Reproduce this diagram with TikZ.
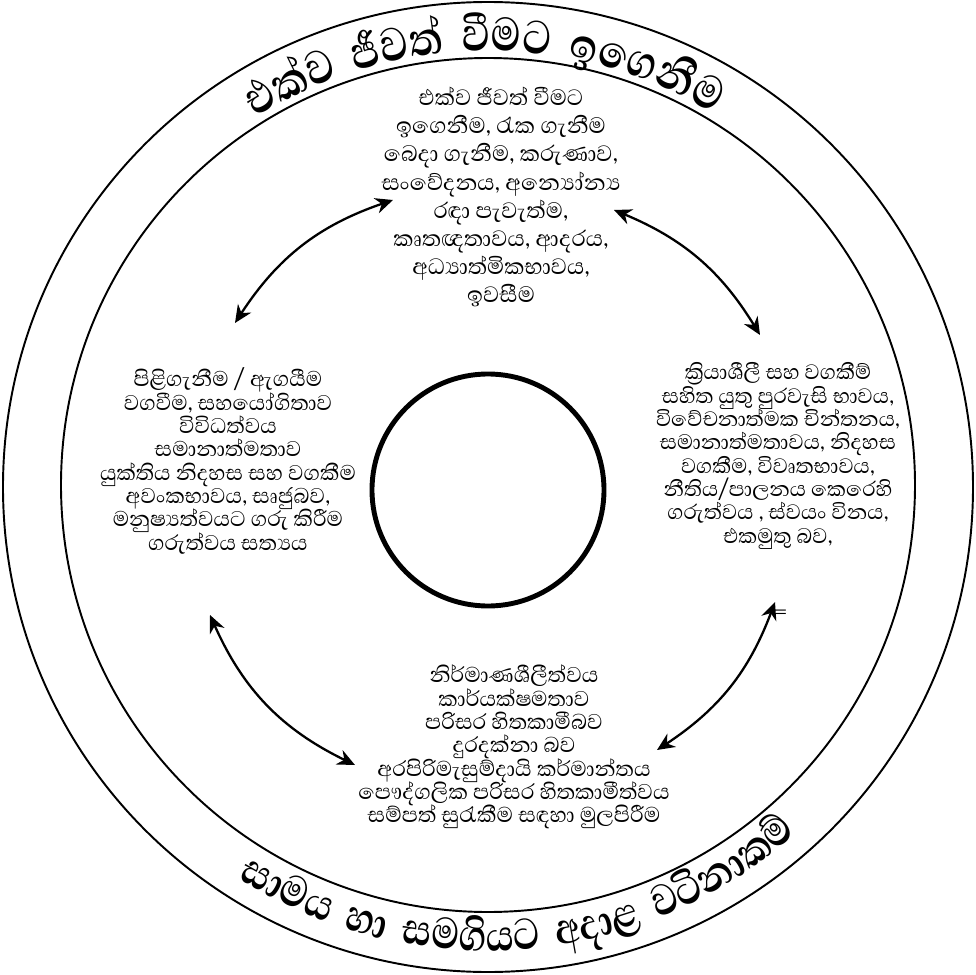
\documentclass[tikz,border=0pt]{standalone}
\usepackage{fontspec}
\usetikzlibrary{arrows.meta}
\setmainfont[Script=Sinhala]{Abhaya Libre}
\newfontfamily\bannerfont[Script=Sinhala]{Abhaya Libre}

\newdimen\arcw
\newdimen\arcpos
\newdimen\glw
\newsavebox\glbox
\def\bannersize{28}
\newcommand\bannerstyle{\bannerfont\bfseries\fontsize{\bannersize}{30}\selectfont}
\newcommand\gap{\hspace*{0.35em}}
\newcommand\tightlines{\lineskiplimit=-50pt\relax}
% width of one cluster, fonts work again outside the picture
\newcommand\measure[1]{%
  \pgfinterruptpicture\global\setbox\glbox=\hbox{\bannerstyle#1}\endpgfinterruptpicture
  \global\glw=\wd\glbox}

% one cluster after another along an arc
% #1 radius, #2 middle angle, #3 1 = top / -1 = bottom, #4 clusters
\newcommand\arctext[4]{%
  \global\arcw=0pt
  \foreach \cl in {#4} {\measure{\cl}\global\advance\arcw by \glw}
  \global\arcpos=0pt
  \foreach \cl in {#4} {
    \measure{\cl}
    \pgfmathsetmacro\glang{#2 + #3*(0.5*\the\arcw - \the\arcpos - 0.5*\the\glw)/(#1*0.5669)*180/pi}
    \pgfmathsetmacro\glrot{\glang - #3*90}
    \node[anchor=base, inner sep=0pt, rotate=\glrot, yscale=1.2] at (\glang:#1) {\bannerstyle\cl};
    \global\advance\arcpos by \glw
  }
}

\begin{document}
\begin{tikzpicture}[x=0.02cm, y=0.02cm,
  ring/.style={line width=1.1pt},
  block/.style={align=center, inner sep=0pt, font=\fontsize{15.6}{13.3}\selectfont\tightlines},
  link/.style={{Stealth[length=10pt,width=9pt]}-{Stealth[length=10pt,width=9pt]}, line width=1.3pt}]
  \useasboundingbox (-488,-487) rectangle (488,487);
  % Rings
  \draw[ring] (0,0) circle (485);
  \draw[ring] (0,2) circle (427);
  \draw[line width=2.8pt] (0,-3) circle (116);
  % Banners
  \def\bannersize{28.5}
  \arctext{436}{90.5}{1}{එ,ක්,ව,\gap,ජී,ව,ත්,\gap,වී,ම,ට,\gap,ඉ,ගෙ,නී,ම}
  \def\bannersize{26.5}
  \arctext{464}{274.6}{-1}{සා,ම,ය,\gap,හා,\gap,ස,ම,ගි,ය,ට,\gap,අ,දා,ළ,\gap,ව,ටි,නා,ක,ම්}
  % Value groups
  \node[block, font=\fontsize{16.2}{16}\selectfont\tightlines] (together) at (13,290) {එක්ව ජීවත් වීමට\\
    ඉගෙනීම, රැක ගැනීම\\ බෙදා ගැනීම, කරුණාව,\\ සංවේදනය, අන්‍යෝන්‍ය\\ රඳා පැවැත්ම,\\
    කෘතඥතාවය, ආදරය,\\ අධ්‍යාත්මිකභාවය,\\ ඉවසීම};
  \node[block, font=\fontsize{15.5}{13.3}\selectfont\tightlines] (respect) at (-260,26) {පිළිගැනීම / ඇගයීම\\ වගවීම, සහයෝගිතාව\\
    විවිධත්වය\\ සමානාත්මතාව\\ යුක්තිය නිදහස සහ වගකීම\\ අවංකභාවය, සෘජුබව,\\
    මනුෂ්‍යත්වයට ගරු කිරීම\\ ගරුත්වය සත්‍යය};
  \node[block, font=\fontsize{15.2}{13.3}\selectfont\tightlines] (citizen) at (290,31) {ක්‍රියාශීලී සහ වගකීම්\\ සහිත යුතු පුරවැසි භාවය,\\
    විවේචනාත්මක චින්තනය,\\ සමානාත්මතාවය, නිදහස\\ වගකීම, විවෘතභාවය,\\
    නීතිය/පාලනය කෙරෙහි\\ ගරුත්වය , ස්වයං විනය,\\ එකමුතු බව,};
  \node[block] (nature) at (26,-260) {නිර්මාණශීලීත්වය\\ කාර්යක්ෂමතාව\\ පරිසර හිතකාමීබව\\
    දුරදක්නා බව\\ අරපිරිමැසුම්දායි කර්මාන්තය\\ පෞද්ගලික පරිසර හිතකාමීත්වය\\
    සම්පත් සුරැකීම සඳහා මුලපිරීම};
  \node[font=\fontsize{18}{18}\selectfont] (mark) at (292,-128) {=};
  % Arrows between the groups
  \coordinate (tl1) at (-253,164);
  \coordinate (tl2) at (-95,287);
  \coordinate (tr1) at (126,277);
  \coordinate (tr2) at (272,152);
  \coordinate (bl1) at (-278,-128);
  \coordinate (bl2) at (-133,-278);
  \coordinate (br1) at (287,-115);
  \coordinate (br2) at (169,-263);
  \draw[link] (tl1) to[bend left=19] (tl2);
  \draw[link] (tr1) to[bend left=18] (tr2);
  \draw[link] (bl1) to[bend right=20] (bl2);
  \draw[link] (br1) to[bend left=18] (br2);
\end{tikzpicture}
\end{document}
